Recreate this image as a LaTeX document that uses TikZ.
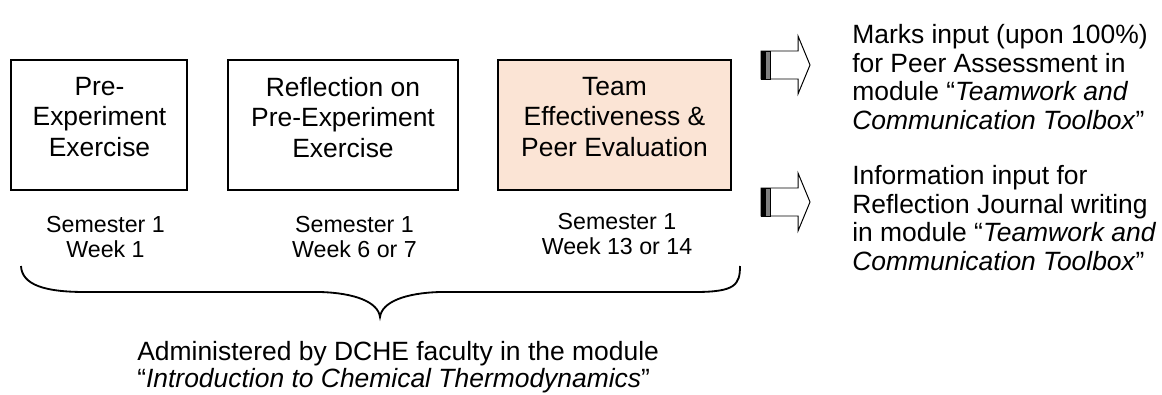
\documentclass[tikz,border=0pt]{standalone}
\usepackage{fontspec}
\setmainfont{Liberation Sans}
\usetikzlibrary{positioning}
\definecolor{peach}{HTML}{FBE4D5}
\definecolor{bargray}{HTML}{808080}
\tikzset{
  stage/.style={draw, line width=0.9pt, minimum width=#1, minimum height=3.25cm, inner sep=0pt},
  boxtext/.style={align=center, inner sep=0pt, anchor=north, font=\fontsize{18.8pt}{21.6pt}\selectfont},
  when/.style={align=center, inner sep=0pt, anchor=north, font=\fontsize{16.5pt}{18.1pt}\selectfont},
  note/.style={align=left, inner sep=0pt, anchor=north west, font=\fontsize{18.8pt}{20.2pt}\selectfont},
}
\begin{document}
\begin{tikzpicture}[x=0.025cm, y=-0.025cm]
	\useasboundingbox (0,0) rectangle (1162,394);
	% Stages
	\node[stage=4.4cm] (pre) at (99,125) {};
	\node[stage=5.75cm] (refl) at (343,125) {};
	\node[stage=5.825cm, fill=peach] (team) at (614.5,125) {};
	\node[boxtext] (pre-txt) at (99.5,77) {Pre-\\Experiment\\Exercise};
	\node[boxtext] (refl-txt) at (343,77) {Reflection on\\Pre-Experiment\\Exercise};
	\node[boxtext] (team-txt) at (614.5,77) {Team\\Effectiveness \&\\Peer Evaluation};
	
	% Timing
	\node[when] (pre-when) at (105.5,216) {Semester 1\\Week 1};
	\node[when] (refl-when) at (354.5,216) {Semester 1\\Week 6 or 7};
	\node[when] (team-when) at (617,213) {Semester 1\\Week 13 or 14};
	
	% Brace
	\draw[line width=1.3pt] (21,266) .. controls (22,285) and (45,292) .. (85,292) -- (320,292)
		.. controls (355,293) and (378,302) .. (380,317)
		.. controls (382,302) and (405,293) .. (440,292) -- (695,292)
		.. controls (735,292) and (740,285) .. (740,266);
	\node[note, font=\fontsize{18.8pt}{19.1pt}\selectfont] (admin) at (137,341.5)
		{Administered by DCHE faculty in the module\\``\textit{Introduction to Chemical Thermodynamics}''};
	
	% Outputs
	\foreach \dy in {0,137}{
		\begin{scope}[shift={(0,\dy)}]
			\draw[line width=0.7pt, fill=white] (761,51) -- (798,51) -- (798,36) -- (810,65)
				-- (798,94) -- (798,79) -- (761,79) -- cycle;
			\fill (761,51) rectangle (766,79);
			\fill[bargray] (766,51) rectangle (770,79);
			\draw[line width=0.7pt] (761,51) rectangle (770,79);
		\end{scope}
	}
	\node[note] (marks) at (852,24.5) {Marks input (upon 100\%)\\for Peer Assessment in\\module ``\textit{Teamwork and}\\\textit{Communication Toolbox}''};
	\node[note] (info) at (852,165.5) {Information input for\\Reflection Journal writing\\in module ``\textit{Teamwork and}\\\textit{Communication Toolbox}''};
\end{tikzpicture}
\end{document}
